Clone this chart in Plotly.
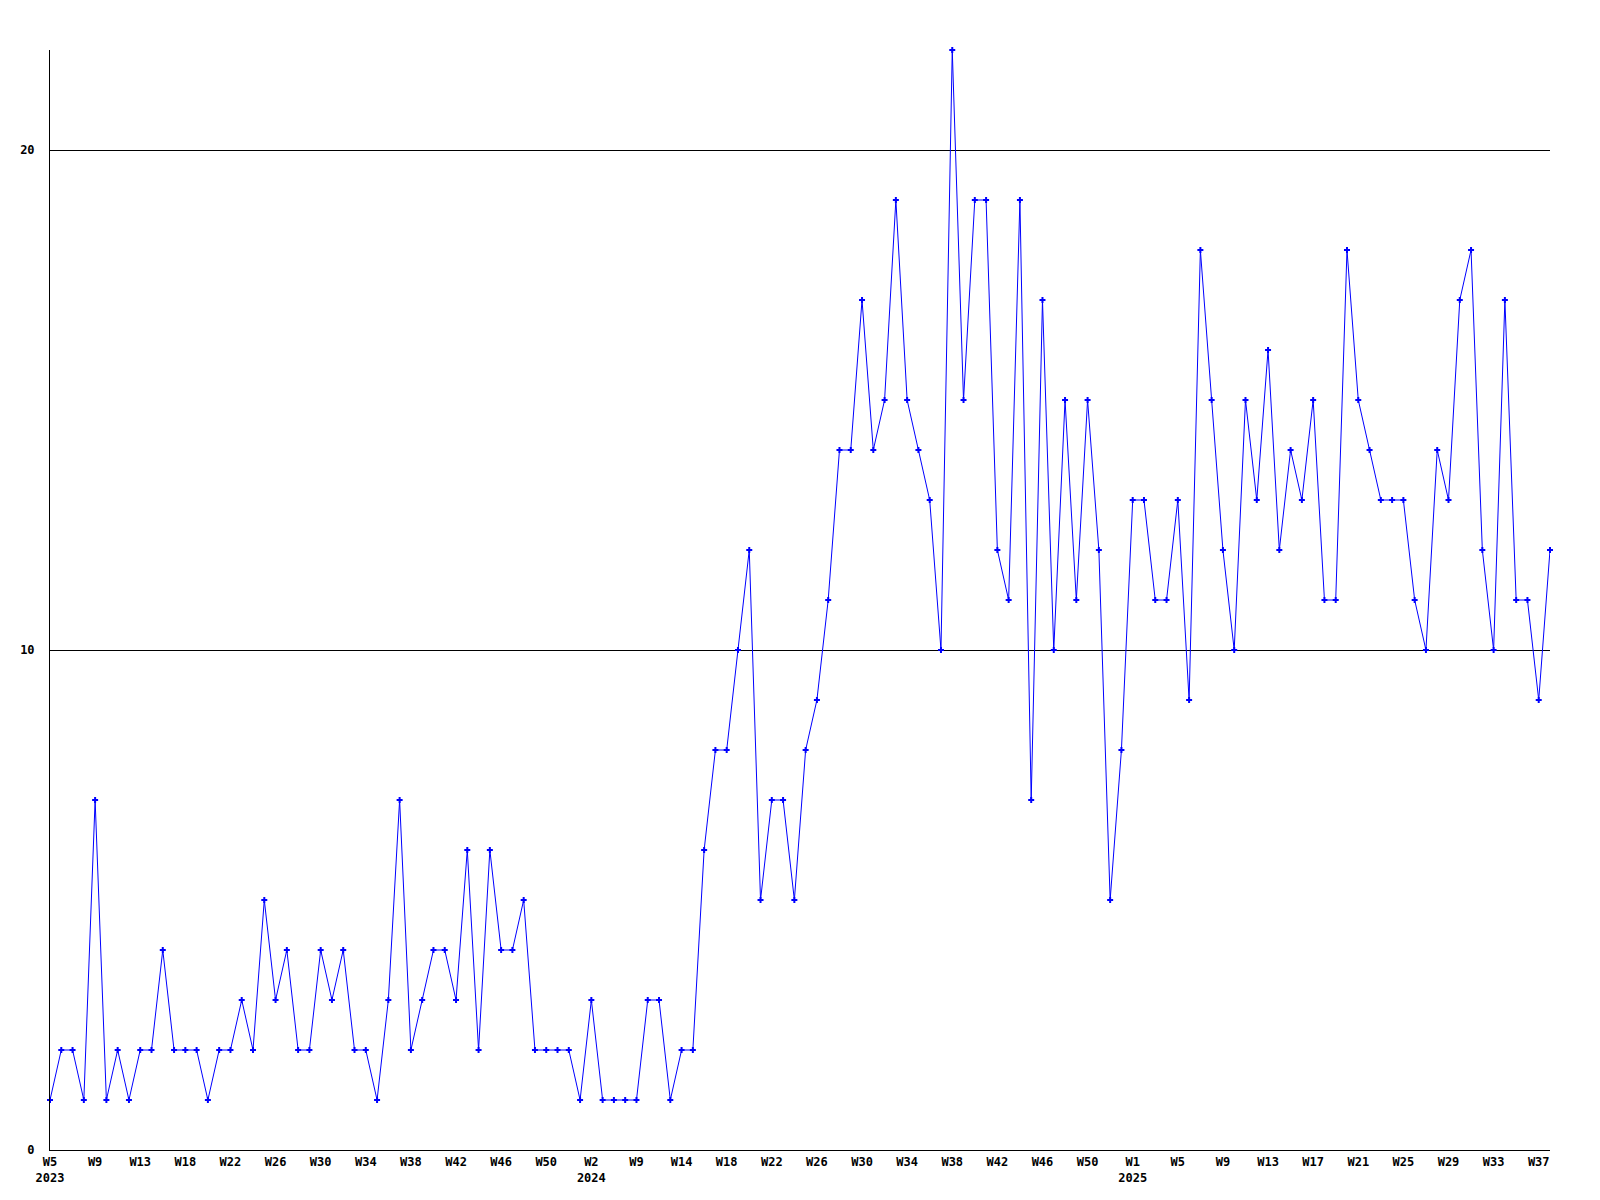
import plotly.graph_objects as go

# Weekly counts, one per week from W5 2023 to W38 2025
antall = [
    1, 2, 2, 1, 7, 1, 2, 1, 2, 2, 4, 2, 2, 2, 1, 2, 2, 3, 2, 5,
    3, 4, 2, 2, 4, 3, 4, 2, 2, 1, 3, 7, 2, 3, 4, 4, 3, 6, 2, 6,
    4, 4, 5, 2, 2, 2, 2, 1, 3, 1, 1, 1, 1, 3, 3, 1, 2, 2, 6, 8,
    8, 10, 12, 5, 7, 7, 5, 8, 9, 11, 14, 14, 17, 14, 15, 19, 15, 14, 13, 10,
    22, 15, 19, 19, 12, 11, 19, 7, 17, 10, 15, 11, 15, 12, 5, 8, 13, 13, 11, 11,
    13, 9, 18, 15, 12, 10, 15, 13, 16, 12, 14, 13, 15, 11, 11, 18, 15, 14, 13, 13,
    13, 11, 10, 14, 13, 17, 18, 12, 10, 17, 11, 11, 9, 12,
]

# Labels on every fourth week
uke_etiketter = [
    "W5<br>2023", "W9", "W13", "W18", "W22", "W26", "W30", "W34", "W38", "W42", "W46", "W50",
    "W2<br>2024", "W9", "W14", "W18", "W22", "W26", "W30", "W34", "W38", "W42", "W46", "W50",
    "W1<br>2025", "W5", "W9", "W13", "W17", "W21", "W25", "W29", "W33", "W37",
]

x = list(range(len(antall)))
tick_pos = x[::4][: len(uke_etiketter)]

fig = go.Figure()

fig.add_trace(
    go.Scatter(
        x=x,
        y=antall,
        mode="lines+markers",
        line=dict(color="#0000FF", width=1),
        marker=dict(symbol="cross", size=5, color="#0000FF", line=dict(width=0)),
        cliponaxis=False,
        showlegend=False,
    )
)

tick_font = dict(family="DejaVu Sans Mono", size=12, color="#000000", weight="bold")

# the page body adds 8px, so the figure is a bit smaller than the window
fig.update_layout(
    width=1584,
    height=1184,
    margin=dict(l=42, r=42, t=42, b=42),
    plot_bgcolor="#FFFFFF",
    paper_bgcolor="#FFFFFF",
    xaxis=dict(
        range=[0, len(antall) - 1],
        tickmode="array",
        tickvals=tick_pos,
        ticktext=uke_etiketter,
        showgrid=False,
        zeroline=False,
        showline=True,
        linecolor="#000000",
        linewidth=1,
        ticks="",
        tickfont=tick_font,
        ticklabelstandoff=1,
        automargin=False,
    ),
    yaxis=dict(
        range=[0, 22],
        tickmode="array",
        tickvals=[0, 10, 20],
        ticktext=["0", "10", "20"],
        showgrid=True,
        gridcolor="#000000",
        gridwidth=1,
        zeroline=False,
        showline=True,
        linecolor="#000000",
        linewidth=1,
        ticks="",
        tickfont=tick_font,
        ticklabelstandoff=12,
        automargin=False,
    ),
)

fig.write_html("out.html")
